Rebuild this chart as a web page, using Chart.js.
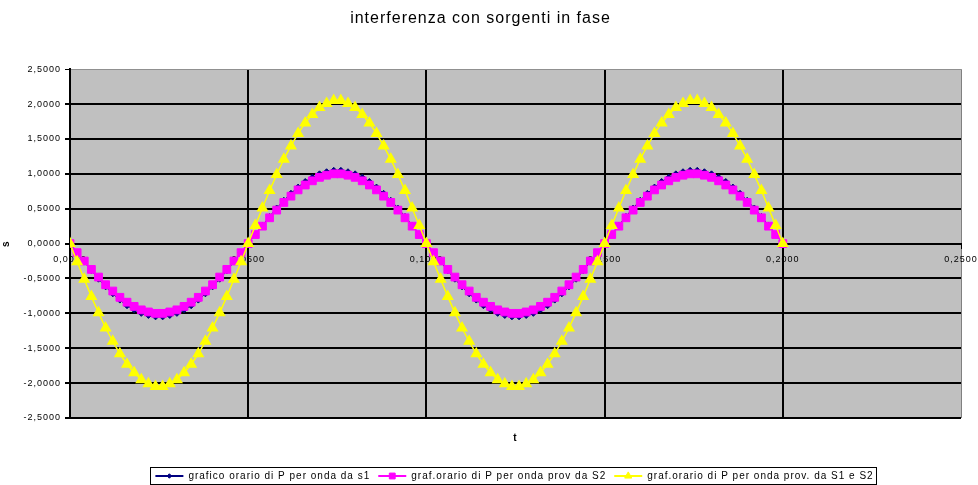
<!DOCTYPE html>
<html>
<head>
<meta charset="utf-8">
<script src="https://cdn.jsdelivr.net/npm/chart.js@4.4.1/dist/chart.umd.min.js"></script>
<style>
  html, body { margin: 0; padding: 0; background: #fff; }
</style>
</head>
<body>
<canvas id="myChart" width="978" height="485"></canvas>
<script>
// tempo t (s)
const tempi = [
  0, 0.002, 0.004, 0.006, 0.008, 0.010, 0.012, 0.014, 0.016, 0.018,
  0.020, 0.022, 0.024, 0.026, 0.028, 0.030, 0.032, 0.034, 0.036, 0.038,
  0.040, 0.042, 0.044, 0.046, 0.048, 0.050, 0.052, 0.054, 0.056, 0.058,
  0.060, 0.062, 0.064, 0.066, 0.068, 0.070, 0.072, 0.074, 0.076, 0.078,
  0.080, 0.082, 0.084, 0.086, 0.088, 0.090, 0.092, 0.094, 0.096, 0.098,
  0.100, 0.102, 0.104, 0.106, 0.108, 0.110, 0.112, 0.114, 0.116, 0.118,
  0.120, 0.122, 0.124, 0.126, 0.128, 0.130, 0.132, 0.134, 0.136, 0.138,
  0.140, 0.142, 0.144, 0.146, 0.148, 0.150, 0.152, 0.154, 0.156, 0.158,
  0.160, 0.162, 0.164, 0.166, 0.168, 0.170, 0.172, 0.174, 0.176, 0.178,
  0.180, 0.182, 0.184, 0.186, 0.188, 0.190, 0.192, 0.194, 0.196, 0.198,
  0.200
];

// onda da S1
const ondaS1 = [
  0,
  -0.13, -0.26, -0.39, -0.51, -0.62, -0.72, -0.81, -0.89, -0.95, -1.00, -1.03, -1.05,
  -1.05, -1.03, -1.00, -0.95, -0.89, -0.81, -0.72, -0.62, -0.51, -0.39, -0.26, -0.13,
  0,
  0.13, 0.26, 0.39, 0.51, 0.62, 0.72, 0.81, 0.89, 0.95, 1.00, 1.03, 1.05,
  1.05, 1.03, 1.00, 0.95, 0.89, 0.81, 0.72, 0.62, 0.51, 0.39, 0.26, 0.13,
  0,
  -0.13, -0.26, -0.39, -0.51, -0.62, -0.72, -0.81, -0.89, -0.95, -1.00, -1.03, -1.05,
  -1.05, -1.03, -1.00, -0.95, -0.89, -0.81, -0.72, -0.62, -0.51, -0.39, -0.26, -0.13,
  0,
  0.13, 0.26, 0.39, 0.51, 0.62, 0.72, 0.81, 0.89, 0.95, 1.00, 1.03, 1.05,
  1.05, 1.03, 1.00, 0.95, 0.89, 0.81, 0.72, 0.62, 0.51, 0.39, 0.26, 0.13,
  0
];

// onda da S2
const ondaS2 = [
  0,
  -0.13, -0.25, -0.37, -0.48, -0.59, -0.68, -0.77, -0.84, -0.90, -0.95, -0.98, -1.00,
  -1.00, -0.98, -0.95, -0.90, -0.84, -0.77, -0.68, -0.59, -0.48, -0.37, -0.25, -0.13,
  0,
  0.13, 0.25, 0.37, 0.48, 0.59, 0.68, 0.77, 0.84, 0.90, 0.95, 0.98, 1.00,
  1.00, 0.98, 0.95, 0.90, 0.84, 0.77, 0.68, 0.59, 0.48, 0.37, 0.25, 0.13,
  0,
  -0.13, -0.25, -0.37, -0.48, -0.59, -0.68, -0.77, -0.84, -0.90, -0.95, -0.98, -1.00,
  -1.00, -0.98, -0.95, -0.90, -0.84, -0.77, -0.68, -0.59, -0.48, -0.37, -0.25, -0.13,
  0,
  0.13, 0.25, 0.37, 0.48, 0.59, 0.68, 0.77, 0.84, 0.90, 0.95, 0.98, 1.00,
  1.00, 0.98, 0.95, 0.90, 0.84, 0.77, 0.68, 0.59, 0.48, 0.37, 0.25, 0.13,
  0
];

// onda risultante S1 + S2
const ondaS1S2 = [
  0,
  -0.26, -0.51, -0.76, -0.99, -1.21, -1.40, -1.58, -1.73, -1.85, -1.95, -2.01, -2.05,
  -2.05, -2.01, -1.95, -1.85, -1.73, -1.58, -1.40, -1.21, -0.99, -0.76, -0.51, -0.26,
  0,
  0.26, 0.51, 0.76, 0.99, 1.21, 1.40, 1.58, 1.73, 1.85, 1.95, 2.01, 2.05,
  2.05, 2.01, 1.95, 1.85, 1.73, 1.58, 1.40, 1.21, 0.99, 0.76, 0.51, 0.26,
  0,
  -0.26, -0.51, -0.76, -0.99, -1.21, -1.40, -1.58, -1.73, -1.85, -1.95, -2.01, -2.05,
  -2.05, -2.01, -1.95, -1.85, -1.73, -1.58, -1.40, -1.21, -0.99, -0.76, -0.51, -0.26,
  0,
  0.26, 0.51, 0.76, 0.99, 1.21, 1.40, 1.58, 1.73, 1.85, 1.95, 2.01, 2.05,
  2.05, 2.01, 1.95, 1.85, 1.73, 1.58, 1.40, 1.21, 0.99, 0.76, 0.51, 0.26,
  0
];

const nomiSerie = [
  'grafico orario di P per onda da s1',
  'graf.orario di P per onda prov da S2',
  'graf.orario di P per onda prov. da S1 e S2'
];

const FONT = "'Liberation Sans', Arial, sans-serif";

// numeri con la virgola, 4 decimali
function formatta(v) {
  let s = Math.abs(v) < 1e-9 ? '0.0000' : v.toFixed(4);
  return s.replace('.', ',');
}

function punti(ys) {
  return tempi.map((t, i) => ({ x: t, y: ys[i] }));
}

// sfondo grigio, spaziatura lettere, legenda con linea + marcatore e cornice
const excelLook = {
  id: 'excelLook',
  beforeUpdate(chart) {
    chart.ctx.letterSpacing = '1px';
  },
  afterUpdate(chart) {
    // sposta la legenda sotto il centro dell'area del grafico
    const legend = chart.legend;
    if (!legend) return;
    const dx = 34, dy = 8;
    legend.left += dx; legend.right += dx;
    legend.top += dy; legend.bottom += dy;
    legend.legendHitBoxes.forEach(hb => { hb.left += dx; hb.top += dy; });
  },
  beforeDraw(chart) {
    const { ctx, chartArea } = chart;
    ctx.letterSpacing = '1px';
    ctx.save();
    ctx.fillStyle = '#C0C0C0';
    ctx.fillRect(chartArea.left, chartArea.top, chartArea.right - chartArea.left, chartArea.bottom - chartArea.top);
    ctx.restore();
  },
  afterDraw(chart) {
    const ctx = chart.ctx;
    const legend = chart.legend;
    if (!legend || !legend.legendHitBoxes) return;
    const boxes = legend.legendHitBoxes;
    const items = legend.legendItems;
    let minX = Infinity, maxX = -Infinity, minY = Infinity, maxY = -Infinity;
    ctx.save();
    boxes.forEach((hb, i) => {
      const ds = chart.data.datasets[items[i].datasetIndex];
      const cy = hb.top + 5;
      ctx.strokeStyle = ds.borderColor;
      ctx.lineWidth = 2;
      ctx.beginPath();
      ctx.moveTo(hb.left, cy);
      ctx.lineTo(hb.left + 28, cy);
      ctx.stroke();
      ctx.fillStyle = ds.backgroundColor;
      ctx.strokeStyle = ds.borderColor;
      ctx.lineWidth = 1;
      Chart.helpers.drawPoint(ctx, { pointStyle: ds.pointStyle, radius: ds.pointRadius * 0.75, rotation: 0, borderWidth: 1 }, hb.left + 14, cy);
      minX = Math.min(minX, hb.left);
      maxX = Math.max(maxX, hb.left + hb.width);
      minY = Math.min(minY, hb.top);
      maxY = Math.max(maxY, hb.top + hb.height);
    });
    ctx.strokeStyle = '#000';
    ctx.lineWidth = 1;
    ctx.strokeRect(Math.round(minX) - 4.5, Math.round(minY) - 3.5, Math.round(maxX - minX) + 8, Math.round(maxY - minY) + 7);
    ctx.restore();
  }
};

const data = {
  datasets: [{
    label: nomiSerie[0],
    data: punti(ondaS1),
    borderColor: '#000080',
    backgroundColor: '#000080',
    pointStyle: 'rectRot',
    pointRadius: 3,
    borderWidth: 1,
    order: 3
  }, {
    label: nomiSerie[1],
    data: punti(ondaS2),
    borderColor: '#FF00FF',
    backgroundColor: '#FF00FF',
    pointStyle: 'rect',
    pointRadius: 5.5,
    borderWidth: 1,
    order: 2
  }, {
    label: nomiSerie[2],
    data: punti(ondaS1S2),
    borderColor: '#FFFF00',
    backgroundColor: '#FFFF00',
    pointStyle: 'triangle',
    pointRadius: 5.5,
    borderWidth: 1.5,
    order: 1
  }]
};

const config = {
  type: 'scatter',
  data: data,
  options: {
    responsive: false,
    animation: false,
    devicePixelRatio: 1,
    layout: { padding: { left: 0, right: 17, top: 0, bottom: 2 } },
    elements: { line: { tension: 0 } },
    datasets: { scatter: { showLine: true } },
    plugins: {
      tooltip: { enabled: false },
      title: {
        display: true,
        text: 'interferenza con sorgenti in fase',
        color: '#000',
        font: { family: FONT, size: 16, weight: 'normal' },
        padding: { top: 9, bottom: 41 }
      },
      legend: {
        position: 'bottom',
        labels: {
          color: '#000',
          font: { family: FONT, size: 10 },
          boxWidth: 28,
          boxHeight: 7,
          padding: 8,
          sort: (a, b) => a.datasetIndex - b.datasetIndex,
          generateLabels: (chart) => Chart.defaults.plugins.legend.labels.generateLabels(chart).map(l => ({
            ...l, fillStyle: 'rgba(0,0,0,0)', strokeStyle: 'rgba(0,0,0,0)', lineWidth: 0
          }))
        }
      }
    },
    scales: {
      x: {
        type: 'linear',
        position: { y: 0 },
        min: 0,
        max: 0.25,
        afterFit: (scale) => { scale.paddingLeft = 0; scale.paddingRight = 0; },
        ticks: {
          stepSize: 0.05,
          color: '#000',
          font: { family: FONT, size: 9 },
          padding: 7,
          maxRotation: 0,
          callback: (v) => formatta(v)
        },
        grid: {
          color: (c) => c.index === 5 ? '#808080' : '#000',
          lineWidth: (c) => c.index === 5 ? 1 : 2,
          drawTicks: true,
          tickLength: 4,
          tickColor: '#000'
        },
        border: { display: true, color: '#000', width: 2 }
      },
      xTitolo: {
        type: 'linear',
        position: 'bottom',
        min: 0,
        max: 0.25,
        afterFit: (scale) => {
          const lh = scale.chart.legend ? scale.chart.legend.height : 0;
          scale.height = 485 - 418 - lh - 2;
          scale.paddingLeft = 0; scale.paddingRight = 0;
        },
        ticks: { display: false },
        grid: { display: false, drawTicks: false },
        border: { display: false },
        title: {
          display: true,
          text: 't',
          color: '#000',
          font: { family: FONT, size: 10, weight: 'bold' },
          padding: { top: 1, bottom: 11 }
        }
      },
      y: {
        type: 'linear',
        min: -2.5,
        max: 2.5,
        afterFit: (scale) => { scale.width = 70; },
        ticks: {
          stepSize: 0.5,
          color: '#000',
          font: { family: FONT, size: 9 },
          padding: 4,
          callback: (v) => formatta(v)
        },
        grid: {
          color: (c) => c.tick && c.tick.value === 2.5 ? '#909090' : '#000',
          lineWidth: (c) => c.tick && c.tick.value === 2.5 ? 1 : 2,
          drawTicks: true,
          tickLength: 5,
          tickColor: '#000'
        },
        border: { display: true, color: '#000', width: 2 },
        title: {
          display: true,
          text: 's',
          color: '#000',
          font: { family: FONT, size: 10, weight: 'bold' },
          padding: { top: 0, bottom: 4 }
        }
      }
    }
  },
  plugins: [excelLook]
};

const myChart = new Chart(document.getElementById('myChart'), config);
</script>
</body>
</html>
